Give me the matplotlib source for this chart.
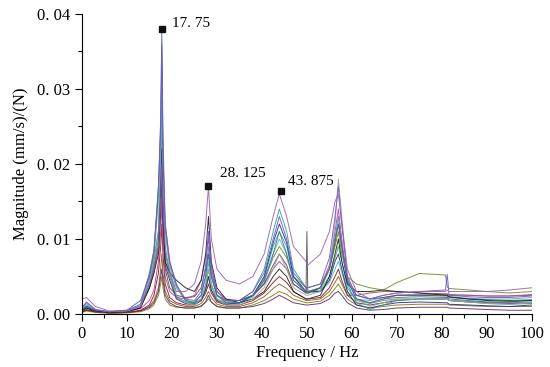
import matplotlib
matplotlib.use("Agg")
import matplotlib.pyplot as plt
from matplotlib.ticker import MultipleLocator, FixedLocator
import numpy as np

plt.rcParams['font.family'] = ['Liberation Serif', 'DejaVu Serif']

# frequency grid (Hz)
freq = [0, 1, 3, 6, 10, 13, 15, 16, 17, 17.5, 17.75, 18, 18.5, 19.5, 21, 23, 25, 26.5, 27.5, 28.125,
        28.75, 30, 32, 35, 38, 40.5, 42.5, 43.875, 45.5, 47, 49.8, 50, 50.2, 53, 55, 56.25, 57, 57.75,
        59, 61, 64, 67, 70, 75, 80.8, 81.2, 81.6, 86, 90, 95, 100]

# magnitudes in 1e-3 (mm/s)/N
c_steel = [0.6,1.0,0.5,0.3,0.5,1.8,5,8,17,26,38,24,12,7,4,1.8,1.5,2.5,5,8,5,2.5,1.5,1.5,2.5,4.5,8,11,8,4.5,3,3,3,3.5,6,10,12,9,4.5,2,1.5,2,2.2,2.3,2.2,2.2,2.0,1.8,1.6,1.5,1.6]
c_purple = [2.0,2.2,1.0,0.4,0.5,1.0,4,6,9,15,20,14,9,5.5,3,3,4,7,12,17,10,6,4.5,4,5,8,13,16,13,9,7,6.5,6.5,8,11,15,16,12,6,3,2,2.5,2.8,3,3,3.2,3,3,3,3.2,3.5]
c_grey = [0.8,1.5,0.6,0.3,0.4,1.0,4.5,7.5,15,22,35,20,11,6,2.5,1.5,1.2,2,4,6,4,2,1.2,1.2,2,3.5,6,8,6,3.5,2.5,2.5,2.5,3,6,12,18,13,5,2,1,1.5,2,2,2,2,1.8,1.6,1.4,1.3,1.5]
c_black = [0.5,0.8,0.4,0.2,0.3,0.8,3.5,5.5,8,14,20,13,7,5.5,4.5,3.5,3,4.5,8,13,7,3.5,2,1.5,2,3,5,6,5,3,2,2,2,2.5,5,8,10,7,4,3,3,3.2,3,2.8,2.5,2.5,2.3,2,1.8,1.7,1.8]
c_teal = [0.7,1.2,0.5,0.3,0.4,1.1,5,8.5,16,24,33,21,11,6.5,3.5,1.8,1.6,2.5,5,9,5.5,2.5,1.6,1.8,3,6,11,14,11,6,3.5,3,3,3.5,6,10,13,9,4,1.5,0.6,1.2,1.8,2,2,2.2,1.8,1.6,1.4,1.3,1.4]
c_olive = [0.5,1.0,0.4,0.2,0.4,1,4,6.5,10,18,25,16,7,5,2.2,1.6,1.5,2,3.5,6,3.8,2,1.5,1.5,2.5,4.5,7.5,9,7.5,5,3.5,3.5,3.5,4,6,9,11,8,5,4,3.5,3.2,4.2,5.4,5.2,3.6,3.4,3.2,3,2.8,3.0]
c_red = [0.3,0.5,0.3,0.15,0.2,0.5,1.2,2.5,5.5,9,12,8,4,2.2,1.5,1.2,1.2,1.8,2.8,4,2.8,1.6,1.2,1.2,1.8,2.8,4.2,5,4.2,3,2,2,2,2.2,3.5,5,6,4.5,2.5,1.5,1.2,1.5,1.8,2,2,2,1.8,1.6,1.5,1.4,1.4]
c_navy = [0.4,0.8,0.4,0.2,0.3,0.9,3.5,6,9,16,22,14,6.5,4.5,2,1.4,1.3,1.8,3.2,5,3.2,1.8,1.3,1.5,2.5,5,9.5,12,9.5,5,3,3,3,3,4.5,7,8,6,3,1.2,0.8,1.2,1.5,1.6,1.5,1.5,1.3,1.2,1.1,1.0,1.2]
c_cyan = [1.0,1.4,0.5,0.3,0.4,1.1,4.5,7.5,11,20,28,18,8,5.5,2.2,1.6,1.4,2,4,7,4,2,1.3,1.4,2.3,4.2,8,10,8,4.5,2.8,2.8,2.8,3,4.2,6,7,5.5,3,2,1.8,2.2,2.5,2.6,2.5,2.5,2.3,2.1,2,2,2.2]
c_brown = [0.3,0.5,0.3,0.15,0.2,0.4,1,1.8,3.5,6,8,5.5,3,1.8,1.3,1,1,1.4,2.2,3,2.2,1.3,1,1,1.5,2.3,3.4,4,3.4,2.5,1.8,1.8,1.8,2,3,4.2,5,4,2.5,2.5,2.8,3,3,2.8,2.7,2.7,2.6,2.5,2.4,2.4,2.5]
c_magenta = [0.5,0.9,0.4,0.2,0.3,0.7,1.8,3.2,7,11,15,10,5,3,2.2,2,2.5,4.5,7.5,10,6,3,2,1.8,2.5,4,6,7,6,4,2.8,2.8,2.8,3.5,6.5,11,14,10,4.5,2,1.5,2,2.5,2.5,2.6,2.6,2.5,2.5,2.4,2.4,2.6]
c_khaki = [0.2,0.4,0.2,0.1,0.15,0.3,0.7,1.2,2.5,4,5,3.5,2,1.2,0.9,0.8,0.8,1.1,1.6,2,1.6,1,0.8,0.8,1.2,1.8,2.5,3,2.6,2,1.5,1.5,1.5,1.7,2.5,3.4,4,3.2,2,1.2,0.8,1,1.2,1.3,1.3,1.3,1.2,1.1,1,1,1]
c_slate = [0.8,1.6,0.6,0.3,0.5,1.3,5.5,8.5,17,25,36,22,12,7,3.8,2,1.8,3,6.5,11,6.5,3,1.8,1.8,3,5.5,10,13,10,5.5,3.5,3.5,3.5,4,7.5,13,17,12,5,2.5,2,2.5,2.8,3,3.2,5.3,2.5,2.3,2.2,2.2,2.4]
c_dpurple = [0.3,0.6,0.3,0.15,0.2,0.4,0.9,1.5,3,5,6,4.5,2.5,1.5,1,0.8,0.8,1,1.6,2.5,1.6,1,0.8,0.8,1,1.4,2,2.5,2,1.5,1.2,1.2,1.2,1.4,2,2.8,3,2.5,1.5,0.8,0.5,0.6,0.8,0.9,0.9,0.9,0.8,0.7,0.6,0.5,0.5]
c_dimgray = [0.6,1.0,0.4,0.2,0.3,0.9,3.5,5.5,9,14,18,12,6,3.5,2.5,2.2,2.3,3.5,6,8,5,2.5,1.8,1.8,2.5,4,6.5,8,6.5,4,2.8,11,2.8,3.5,6,9.5,12,9,4.5,2.5,2,2.2,2.5,2.5,2.4,2.4,2.2,2,1.9,1.8,1.9]
c_green = [0.5,0.9,0.4,0.2,0.35,1,4.2,7,11,21,30,19,8,5.5,2.3,1.6,1.4,1.9,3.2,5,3.2,1.8,1.3,1.5,2.4,4.8,9,11,9,5,3,3,3,3.2,5,7.5,9,7,3.5,1.8,1.4,1.8,2,2,2,2,1.8,1.7,1.6,1.6,1.8]

series = [
    (c_brown, '#8b5a2b'), (c_khaki, '#808000'), (c_dpurple, '#5a2a7a'), (c_red, '#8b1a1a'),
    (c_olive, '#6b8e23'), (c_cyan, '#40b8cc'), (c_green, '#3cb371'), (c_navy, '#2b2b8c'),
    (c_teal, '#3a9a9a'), (c_magenta, '#c040a0'), (c_dimgray, '#505050'), (c_black, '#202020'),
    (c_grey, '#a0a0a0'), (c_steel, '#4a6fa5'), (c_slate, '#6a5acd'), (c_purple, '#9a5fb8'),
]

peak_f = [17.75, 28.125, 44.2]
peak_v = [0.038, 0.0171, 0.0164]
peak_labels = ['17. 75', '28. 125', '43. 875']
label_off = [(7, 4), (8, 4), (5, 2)]
label_va = ['center', 'bottom', 'bottom']

fig = plt.figure(figsize=(5.5, 3.67), dpi=100)
ax = fig.add_axes([0.149, 0.1444, 0.818, 0.8176])

f = np.array(freq)
for vals, col in series:
    ax.plot(f, np.array(vals) * 1e-3, color=col, lw=0.7, alpha=0.9)

ax.plot(peak_f, peak_v, 's', color='#111111', ms=5, zorder=5)
for x, y, t, off, va in zip(peak_f, peak_v, peak_labels, label_off, label_va):
    ax.annotate(t, (x, y), xytext=off, textcoords='offset points', fontsize=11,
                ha='left', va=va)

ax.set_xlim(0, 100)
ax.set_ylim(0, 0.04)
ax.xaxis.set_major_locator(MultipleLocator(10))
ax.xaxis.set_minor_locator(MultipleLocator(5))
ax.yaxis.set_major_locator(FixedLocator([0, 0.01, 0.02, 0.03, 0.04]))
ax.yaxis.set_minor_locator(MultipleLocator(0.005))
ax.set_yticklabels(['0. 00', '0. 01', '0. 02', '0. 03', '0. 04'])
ax.tick_params(direction='out', length=5, width=0.8, labelsize=12)
ax.tick_params(which='minor', direction='out', length=3, width=0.8)
ax.spines['top'].set_visible(False)
ax.spines['right'].set_visible(False)
ax.set_xlabel('Frequency / Hz', fontsize=12, labelpad=2)
ax.set_ylabel('Magnitude (mm/s)/(N)', fontsize=12, labelpad=6)

fig.savefig('out.png', dpi=100)
